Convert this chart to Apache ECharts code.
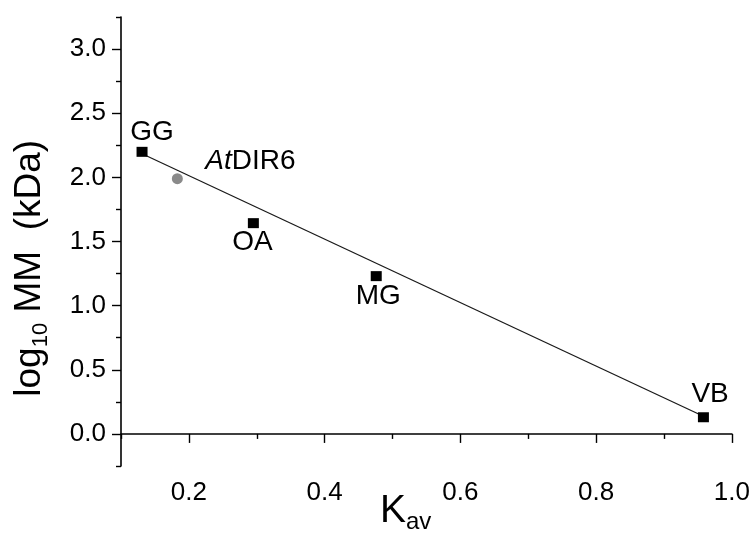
<!DOCTYPE html>
<html>
<head>
<meta charset="utf-8">
<script src="https://cdn.jsdelivr.net/npm/echarts@6/dist/echarts.min.js"></script>
<style>
  html, body { margin: 0; padding: 0; background: #ffffff; }
  #chart { width: 753px; height: 536px; }
</style>
</head>
<body>
<div id="chart"></div>
<script>
// Gel-filtration calibration standards (Kav vs log10 molecular mass)
const standardNames = ['GG', 'OA', 'MG', 'VB'];
const standardKav = [0.131, 0.295, 0.476, 0.958];
const standardLogMM = [2.199, 1.643, 1.230, 0.130];

// Protein estimated from the calibration
const sampleNames = ['AtDIR6'];
const sampleKav = [0.183];
const sampleLogMM = [1.99];

// Calibration line end points
const fitKav = [0.131, 0.958];
const fitLogMM = [2.184, 0.138];

// Axis ticks
const xMajorTicks = [0.2, 0.4, 0.6, 0.8, 1.0];
const xMinorTicks = [0.1, 0.3, 0.5, 0.7, 0.9];
const yMajorTicks = [0.0, 0.5, 1.0, 1.5, 2.0, 2.5, 3.0];
const yMinorTicks = [-0.25, 0.25, 0.75, 1.25, 1.75, 2.25, 2.75, 3.25];

const FONT = '"Liberation Sans", Arial, Helvetica, sans-serif';
const INK = '#000000';

// Point label placement (offset of label centre from the marker centre)
const labelOffsets = {
  GG: [10, -20],
  OA: [-1, 19],
  MG: [2, 20.5],
  VB: [6.7, -23],
  AtDIR6: [73, -17.7]
};

const pointLabel = (name) => ({
  show: true,
  position: 'inside',
  offset: labelOffsets[name],
  color: INK,
  fontFamily: FONT,
  fontSize: 28,
  formatter: name === 'AtDIR6' ? '{i|At}DIR6' : name,
  rich: {
    i: { fontStyle: 'italic', fontFamily: FONT, fontSize: 28, color: INK }
  }
});

const standardData = standardNames.map((n, i) => ({
  name: n,
  value: [standardKav[i], standardLogMM[i]],
  label: pointLabel(n)
}));
const sampleData = sampleNames.map((n, i) => ({
  name: n,
  value: [sampleKav[i], sampleLogMM[i]],
  label: pointLabel(n)
}));
const fitData = fitKav.map((x, i) => [x, fitLogMM[i]]);

const axisLineStyle = { color: INK, width: 1.6 };
const tickStyle = { color: INK, width: 1.4 };

const chart = echarts.init(document.getElementById('chart'), null, { renderer: 'canvas' });

chart.setOption({
  animation: false,
  backgroundColor: '#ffffff',
  grid: { left: 121, right: 20, top: 17, bottom: 70, containLabel: false },
  xAxis: [
    {
      type: 'value', min: 0.1, max: 1.0, position: 'bottom',
      axisLine: { show: true, lineStyle: axisLineStyle },
      axisTick: { show: true, customValues: xMajorTicks, length: 9, lineStyle: tickStyle },
      axisLabel: {
        show: true, customValues: xMajorTicks, margin: 14,
        formatter: (v) => v.toFixed(1),
        color: INK, fontFamily: FONT, fontSize: 26
      },
      splitLine: { show: false }
    },
    {
      type: 'value', min: 0.1, max: 1.0, position: 'bottom',
      axisLine: { show: false },
      axisTick: { show: true, customValues: xMinorTicks, length: 5, lineStyle: tickStyle },
      axisLabel: { show: false },
      splitLine: { show: false }
    }
  ],
  yAxis: [
    {
      type: 'value', min: -0.25, max: 3.25, position: 'left',
      axisLine: { show: true, lineStyle: axisLineStyle },
      axisTick: { show: true, customValues: yMajorTicks, length: 9, lineStyle: tickStyle },
      axisLabel: {
        show: true, customValues: yMajorTicks, margin: 15,
        formatter: (v) => v.toFixed(1),
        color: INK, fontFamily: FONT, fontSize: 26
      },
      splitLine: { show: false }
    },
    {
      type: 'value', min: -0.25, max: 3.25, position: 'left',
      axisLine: { show: false },
      axisTick: { show: true, customValues: yMinorTicks, length: 5, lineStyle: tickStyle },
      axisLabel: { show: false },
      splitLine: { show: false }
    }
  ],
  graphic: [
    {
      type: 'text', x: 29.5, y: 268.3, rotation: Math.PI / 2,
      style: {
        text: '{m|log}{s|10}{m| MM  (kDa)}',
        align: 'center', verticalAlign: 'middle',
        rich: {
          m: { fontFamily: FONT, fontSize: 37, lineHeight: 44, fill: INK },
          s: { fontFamily: FONT, fontSize: 22, lineHeight: 8, verticalAlign: 'bottom', fill: INK }
        }
      }
    },
    {
      type: 'text', x: 380, y: 510.9,
      style: {
        text: '{m|K}{s|av}',
        align: 'left', verticalAlign: 'middle',
        rich: {
          m: { fontFamily: FONT, fontSize: 39, lineHeight: 46, fill: INK },
          s: { fontFamily: FONT, fontSize: 24, lineHeight: 6, verticalAlign: 'bottom', fill: INK }
        }
      }
    }
  ],
  series: [
    {
      name: 'Calibration line', type: 'line', xAxisIndex: 0, yAxisIndex: 0,
      data: fitData, symbol: 'none', z: 1,
      lineStyle: { color: '#1a1a1a', width: 1.3 }
    },
    {
      name: 'Standards', type: 'scatter', xAxisIndex: 0, yAxisIndex: 0,
      data: standardData, symbol: 'rect', symbolSize: [11, 10], z: 3,
      itemStyle: { color: '#000000', opacity: 1 }
    },
    {
      name: 'AtDIR6', type: 'scatter', xAxisIndex: 0, yAxisIndex: 0,
      data: sampleData, symbol: 'circle', symbolSize: 11, z: 3,
      itemStyle: { color: '#8a8a8a', opacity: 1 }
    }
  ]
});
</script>
</body>
</html>
